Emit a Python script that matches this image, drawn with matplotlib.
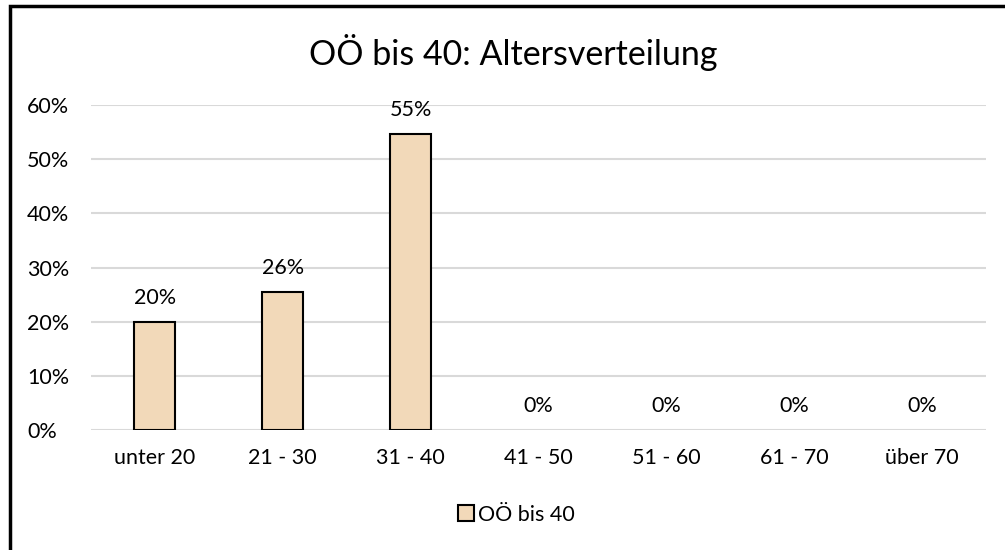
import matplotlib
matplotlib.use("Agg")
import matplotlib.pyplot as plt
from matplotlib.patches import Rectangle
from matplotlib.ticker import PercentFormatter

categories = ["unter 20", "21 - 30", "31 - 40", "41 - 50", "51 - 60", "61 - 70", "über 70"]
shares = [0.199, 0.255, 0.546, 0.0, 0.0, 0.0, 0.0]
series_name = "OÖ bis 40"
title = "OÖ bis 40: Altersverteilung"

plt.rcParams["font.family"] = ["Lato", "DejaVu Sans"]
FS = 15.5

fig = plt.figure(figsize=(10.05, 5.5), dpi=100)
ax = fig.add_axes([0.0905, 0.218, 0.8905, 0.591])

x = list(range(len(categories)))
bars = ax.bar(x, shares, width=0.32, color="#f2d9b9", edgecolor="black",
              linewidth=1.5, label=series_name, zorder=3)
# zero-height bars show no outline
for b, v in zip(bars, shares):
    if v == 0:
        b.set_linewidth(0)
for xi, v in zip(x, shares):
    ax.text(xi, v + 0.026, f"{v:.0%}", ha="center", va="bottom", fontsize=FS)

ax.set_xlim(-0.5, len(categories) - 0.5)
ax.set_ylim(0, 0.6)
ax.set_yticks([0, 0.1, 0.2, 0.3, 0.4, 0.5, 0.6])
ax.yaxis.set_major_formatter(PercentFormatter(1.0, decimals=0))
ax.set_xticks(x)
ax.set_xticklabels(categories)
ax.tick_params(length=0, labelsize=FS, colors="black")
ax.tick_params(axis="x", pad=13)
ax.tick_params(axis="y", pad=46)
for lbl in ax.get_yticklabels():
    lbl.set_horizontalalignment("left")
ax.grid(axis="y", color="#d9d9d9", linewidth=1.5, zorder=0)
for s in ax.spines.values():
    s.set_visible(False)

fig.text(0.511, 0.905, title, ha="center", va="center", fontsize=24.5)
leg = fig.legend(handles=[bars[0]], labels=[series_name], loc="center",
                 bbox_to_anchor=(0.514, 0.064), frameon=False, fontsize=FS,
                 handlelength=0.75, handleheight=0.75, handletextpad=0.2)

fig.add_artist(Rectangle((0.0095, -0.05), 1.2, 1.04, transform=fig.transFigure,
                         fill=False, edgecolor="black", linewidth=2.5))

fig.savefig("out.png", dpi=100)
